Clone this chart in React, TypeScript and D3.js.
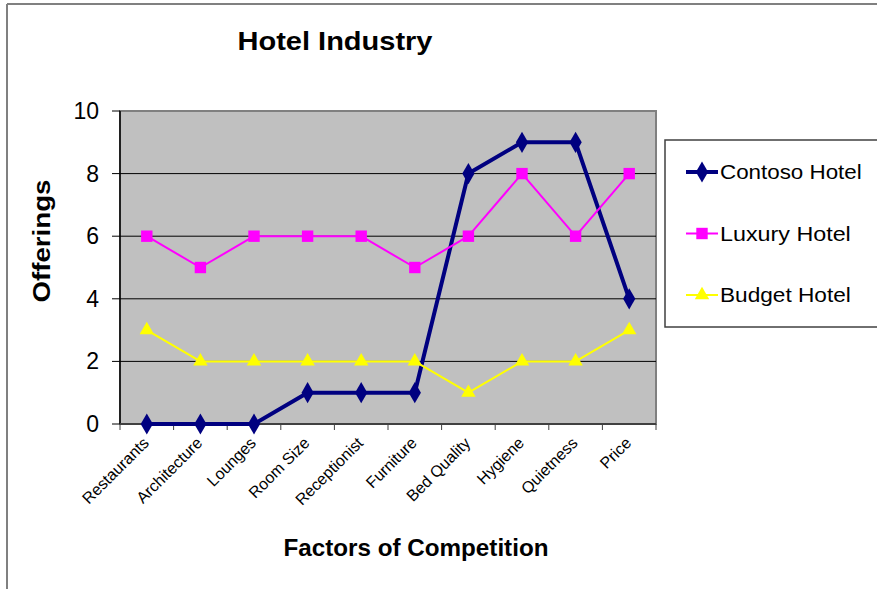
import { useEffect, useRef } from 'react';
import * as d3 from 'd3';

const categories = ['Restaurants', 'Architecture', 'Lounges', 'Room Size', 'Receptionist', 'Furniture', 'Bed Quality', 'Hygiene', 'Quietness', 'Price'];
const contoso = [0, 0, 0, 1, 1, 1, 8, 9, 9, 4];
const luxury = [6, 5, 6, 6, 6, 5, 6, 8, 6, 8];
const budget = [3, 2, 2, 2, 2, 2, 1, 2, 2, 3];
const yTicks = [0, 2, 4, 6, 8, 10];

const series = [
  { name: 'Contoso Hotel', values: contoso, color: '#000080', width: 4, symbol: d3.symbolDiamond, size: 130 },
  { name: 'Luxury Hotel', values: luxury, color: '#ff00ff', width: 2, symbol: d3.symbolSquare, size: 130 },
  { name: 'Budget Hotel', values: budget, color: '#ffff00', width: 2, symbol: d3.symbolTriangle, size: 90 },
];

const W = 877;
const H = 589;
const FONT = 'Liberation Sans, Arial, sans-serif';

export default function App() {
  const svgRef = useRef<SVGSVGElement>(null);

  useEffect(() => {
    if (!svgRef.current) return;
    const svg = d3.select(svgRef.current);
    svg.selectAll('*').remove();

    const left = 120, right = 656, top = 111, bottom = 424;

    const x = d3.scaleBand<string>().domain(categories).range([left, right]);
    const y = d3.scaleLinear().domain([0, 10]).range([bottom, top]);
    const cx = (i: number) => (x(categories[i]) as number) + x.bandwidth() / 2;

    svg.append('rect').attr('width', W).attr('height', H).attr('fill', '#fff');

    // outer frame
    svg.append('line').attr('x1', 7).attr('x2', W).attr('y1', 4).attr('y2', 4)
      .attr('stroke', '#808080').attr('stroke-width', 2);
    svg.append('line').attr('x1', 7).attr('x2', 7).attr('y1', 4).attr('y2', H)
      .attr('stroke', '#808080').attr('stroke-width', 2);

    // plot area
    svg.append('rect')
      .attr('x', left).attr('y', top)
      .attr('width', right - left).attr('height', bottom - top)
      .attr('fill', '#c0c0c0')
      .attr('stroke', '#808080').attr('stroke-width', 2);

    // gridlines
    svg.append('g').selectAll('line')
      .data(yTicks.filter(t => t > 0 && t < 10))
      .enter().append('line')
      .attr('x1', left).attr('x2', right)
      .attr('y1', d => y(d)).attr('y2', d => y(d))
      .attr('stroke', '#000').attr('stroke-width', 1);

    // y axis
    const yAxis = svg.append('g');
    yAxis.append('line').attr('x1', left).attr('x2', left).attr('y1', top).attr('y2', bottom)
      .attr('stroke', '#000').attr('stroke-width', 1.5);
    yAxis.selectAll('line.tick').data(yTicks).enter().append('line')
      .attr('class', 'tick')
      .attr('x1', left - 8).attr('x2', left)
      .attr('y1', d => y(d)).attr('y2', d => y(d))
      .attr('stroke', '#000');
    yAxis.selectAll('text').data(yTicks).enter().append('text')
      .attr('x', 99).attr('y', d => y(d) + 8)
      .attr('text-anchor', 'end')
      .attr('font-family', FONT).attr('font-size', 23)
      .attr('fill', '#000')
      .text(d => d);

    // x axis
    const xAxis = svg.append('g');
    xAxis.append('line').attr('x1', left).attr('x2', right).attr('y1', bottom).attr('y2', bottom)
      .attr('stroke', '#404040').attr('stroke-width', 2);
    const bounds = categories.map(c => x(c) as number).concat([right]);
    xAxis.selectAll('line.tick').data(bounds).enter().append('line')
      .attr('class', 'tick')
      .attr('x1', d => d).attr('x2', d => d)
      .attr('y1', bottom).attr('y2', bottom + 6)
      .attr('stroke', '#404040');
    xAxis.selectAll('text').data(categories).enter().append('text')
      .attr('transform', (_, i) => `translate(${cx(i) + 3}, ${bottom + 20}) rotate(-45)`)
      .attr('text-anchor', 'end')
      .attr('font-family', FONT).attr('font-size', 16)
      .attr('fill', '#000')
      .text(d => d);

    // series
    series.forEach(s => {
      const line = d3.line<number>().x((_, i) => cx(i)).y(d => y(d));
      svg.append('path')
        .attr('d', line(s.values))
        .attr('fill', 'none')
        .attr('stroke', s.color)
        .attr('stroke-width', s.width)
        .attr('stroke-linejoin', 'round');
    });
    series.forEach(s => {
      const sym = d3.symbol().type(s.symbol).size(s.size);
      svg.append('g').selectAll('path').data(s.values).enter().append('path')
        .attr('transform', (d, i) => `translate(${cx(i)}, ${y(d)})`)
        .attr('d', sym())
        .attr('fill', s.color);
    });

    // titles
    svg.append('text')
      .attr('x', 335).attr('y', 50)
      .attr('text-anchor', 'middle')
      .attr('font-family', FONT).attr('font-size', 26).attr('font-weight', 'bold')
      .attr('textLength', 195).attr('lengthAdjust', 'spacingAndGlyphs')
      .text('Hotel Industry');
    svg.append('text')
      .attr('x', 416).attr('y', 556)
      .attr('text-anchor', 'middle')
      .attr('font-family', FONT).attr('font-size', 24).attr('font-weight', 'bold')
      .attr('textLength', 265).attr('lengthAdjust', 'spacingAndGlyphs')
      .text('Factors of Competition');
    svg.append('text')
      .attr('transform', 'translate(50, 241) rotate(-90)')
      .attr('text-anchor', 'middle')
      .attr('font-family', FONT).attr('font-size', 24).attr('font-weight', 'bold')
      .attr('textLength', 123).attr('lengthAdjust', 'spacingAndGlyphs')
      .text('Offerings');

    // legend
    const legend = svg.append('g');
    legend.append('rect')
      .attr('x', 665).attr('y', 140).attr('width', 230).attr('height', 187)
      .attr('fill', '#fff').attr('stroke', '#404040').attr('stroke-width', 1.5);
    series.forEach((s, i) => {
      const ly = 172 + i * 61.5;
      legend.append('line')
        .attr('x1', 686).attr('x2', 718).attr('y1', ly).attr('y2', ly)
        .attr('stroke', s.color).attr('stroke-width', s.width);
      legend.append('path')
        .attr('transform', `translate(702, ${ly})`)
        .attr('d', d3.symbol().type(s.symbol).size(s.size)())
        .attr('fill', s.color);
      legend.append('text')
        .attr('x', 720).attr('y', ly + 7)
        .attr('font-family', FONT).attr('font-size', 20)
        .attr('textLength', s.name.length * 10.9).attr('lengthAdjust', 'spacingAndGlyphs')
        .attr('fill', '#000')
        .text(s.name);
    });
  }, []);

  return (
    <div style={{ position: 'fixed', left: 0, top: 0 }}>
      <svg ref={svgRef} width={W} height={H} />
    </div>
  );
}
